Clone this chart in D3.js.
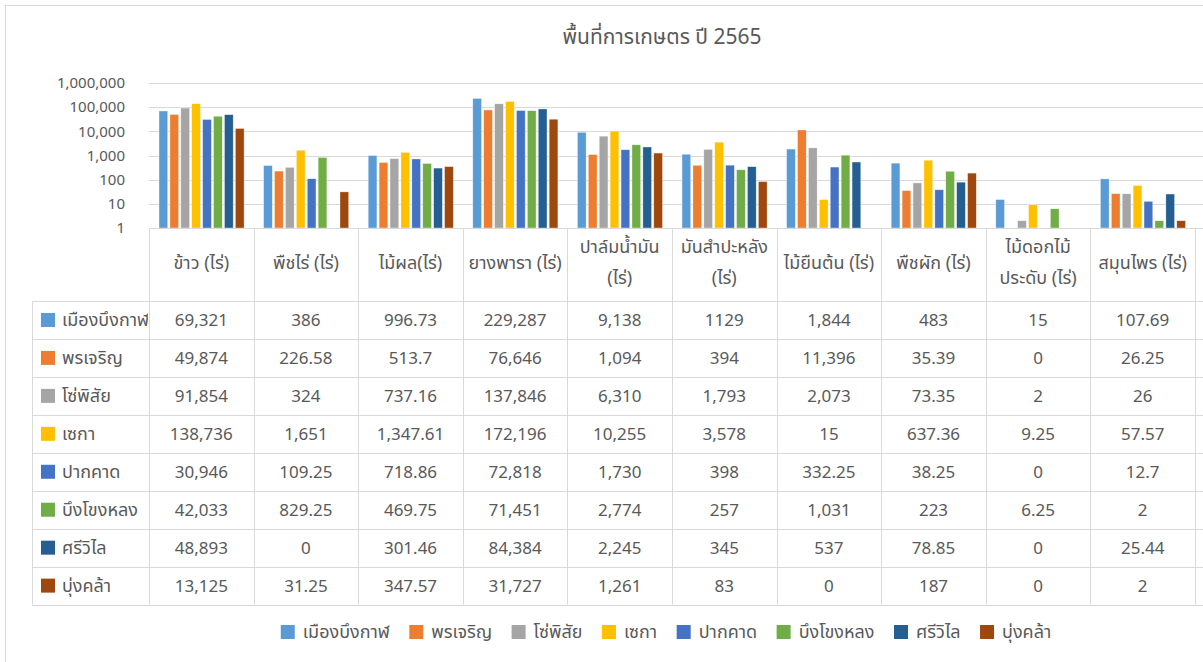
<!DOCTYPE html>
<html>
<head>
<meta charset="utf-8">
<script src="https://cdn.jsdelivr.net/npm/d3@7"></script>
<style>
  body { margin: 0; background: #fff; }
  svg text { font-family: Tahoma, "Noto Sans", "Noto Sans Thai", sans-serif; fill: #595959; }
</style>
</head>
<body>
<svg id="chart" width="1203" height="662"></svg>
<script>
// categories (table header), two-line header text where Excel wrapped it
var categories = ["ข้าว (ไร่)", "พืชไร่ (ไร่)", "ไม้ผล(ไร่)", "ยางพารา (ไร่)", "ปาล์มน้ำมัน (ไร่)",
                  "มันสำปะหลัง (ไร่)", "ไม้ยืนต้น (ไร่)", "พืชผัก (ไร่)", "ไม้ดอกไม้ประดับ (ไร่)", "สมุนไพร (ไร่)"];
var categoryLines = [["ข้าว (ไร่)"], ["พืชไร่ (ไร่)"], ["ไม้ผล(ไร่)"], ["ยางพารา (ไร่)"], ["ปาล์มน้ำมัน", "(ไร่)"],
                     ["มันสำปะหลัง", "(ไร่)"], ["ไม้ยืนต้น (ไร่)"], ["พืชผัก (ไร่)"], ["ไม้ดอกไม้", "ประดับ (ไร่)"], ["สมุนไพร (ไร่)"]];

var seriesNames = ["เมืองบึงกาฬ", "พรเจริญ", "โซ่พิสัย", "เซกา", "ปากคาด", "บึงโขงหลง", "ศรีวิไล", "บุ่งคล้า"];
var seriesColors = ["#5B9BD5", "#ED7D31", "#A5A5A5", "#FFC000", "#4472C4", "#70AD47", "#255E91", "#9E480E"];

// values as printed in the data table
var muangBuengKan = ["69,321", "386", "996.73", "229,287", "9,138", "1129", "1,844", "483", "15", "107.69"];
var phonCharoen   = ["49,874", "226.58", "513.7", "76,646", "1,094", "394", "11,396", "35.39", "0", "26.25"];
var soPhisai      = ["91,854", "324", "737.16", "137,846", "6,310", "1,793", "2,073", "73.35", "2", "26"];
var seka          = ["138,736", "1,651", "1,347.61", "172,196", "10,255", "3,578", "15", "637.36", "9.25", "57.57"];
var pakKhat       = ["30,946", "109.25", "718.86", "72,818", "1,730", "398", "332.25", "38.25", "0", "12.7"];
var buengKhongLong= ["42,033", "829.25", "469.75", "71,451", "2,774", "257", "1,031", "223", "6.25", "2"];
var siWilai       = ["48,893", "0", "301.46", "84,384", "2,245", "345", "537", "78.85", "0", "25.44"];
var bungKhla      = ["13,125", "31.25", "347.57", "31,727", "1,261", "83", "0", "187", "0", "2"];

var seriesText = [muangBuengKan, phonCharoen, soPhisai, seka, pakKhat, buengKhongLong, siWilai, bungKhla];

var yTicks = [1, 10, 100, 1000, 10000, 100000, 1000000];
var title = "พื้นที่การเกษตร ปี 2565";

var toNum = function(s) { return +s.replace(/,/g, ""); };

var svg = d3.select("#chart");
var W = 1203;
var plot = { left: 149, right: 1195, top: 83, bottom: 228 };
var table = { left: 32, headerBottom: 301, rowH: 37.95 };
var gridColor = "#D9D9D9";
var thaiSize = "18px", numSize = "17px";

// chart frame
svg.append("rect")
    .attr("x", 5.5).attr("y", 5.5)
    .attr("width", W + 20).attr("height", 700)
    .attr("fill", "#fff").attr("stroke", gridColor);

svg.append("text")
    .text(title)
    .attr("x", 662).attr("y", 44)
    .attr("text-anchor", "middle")
    .style("font-size", "21px");

var x0 = d3.scaleBand().domain(categories).range([plot.left, plot.right]);
var x1 = d3.scaleBand().domain(seriesNames).range([10, x0.bandwidth() - 9.5]).paddingInner(0.2);
var y = d3.scaleLog().domain([1, 1000000]).range([plot.bottom, plot.top]);

// gridlines
svg.append("g").selectAll("line")
    .data(yTicks.slice(1))
    .enter().append("line")
    .attr("x1", plot.left).attr("x2", W)
    .attr("y1", function(d) { return Math.round(y(d)) + 0.5; })
    .attr("y2", function(d) { return Math.round(y(d)) + 0.5; })
    .attr("stroke", gridColor);

var yAxis = d3.axisLeft(y).tickValues(yTicks).tickFormat(d3.format(",")).tickSize(0).tickPadding(24);
var yg = svg.append("g")
    .attr("transform", "translate(" + plot.left + ",0)")
    .call(yAxis);
yg.select(".domain").remove();
yg.selectAll("text").style("font-size", "15px").attr("fill", "#595959")
    .style("font-family", "Tahoma, 'Noto Sans', sans-serif");

// bars
var groups = svg.append("g").selectAll("g")
    .data(categories)
    .enter().append("g")
    .attr("transform", function(d) { return "translate(" + x0(d) + ",0)"; });

groups.selectAll("rect")
    .data(function(d, ci) {
        return seriesNames.map(function(s, si) { return { s: s, si: si, v: toNum(seriesText[si][ci]) }; })
            .filter(function(e) { return e.v > 0; });
    })
    .enter().append("rect")
    .attr("x", function(d) { return x1(d.s); })
    .attr("width", x1.bandwidth())
    .attr("y", function(d) { return y(Math.max(d.v, 1)); })
    .attr("height", function(d) { return plot.bottom - y(Math.max(d.v, 1)); })
    .attr("fill", function(d) { return seriesColors[d.si]; })
    .attr("stroke", "#fff").attr("stroke-opacity", 0.6).attr("stroke-width", 0.6);

// data table
var rowsTop = table.headerBottom;
var tableBottom = rowsTop + table.rowH * seriesNames.length;
var tg = svg.append("g");

svg.append("clipPath").attr("id", "labelClip")
    .append("rect")
    .attr("x", table.left).attr("y", 0)
    .attr("width", plot.left - table.left - 1).attr("height", 662);

// axis line at the base
tg.append("line")
    .attr("x1", plot.left).attr("x2", W)
    .attr("y1", plot.bottom + 0.5).attr("y2", plot.bottom + 0.5)
    .attr("stroke", gridColor);

// vertical cell borders
var bounds = categories.map(function(c) { return x0(c); }).concat([plot.right]);
tg.selectAll("line.v")
    .data(bounds)
    .enter().append("line")
    .attr("class", "v")
    .attr("x1", function(d) { return Math.round(d) + 0.5; })
    .attr("x2", function(d) { return Math.round(d) + 0.5; })
    .attr("y1", plot.bottom).attr("y2", tableBottom)
    .attr("stroke", gridColor);
tg.append("line")
    .attr("x1", table.left + 0.5).attr("x2", table.left + 0.5)
    .attr("y1", rowsTop).attr("y2", tableBottom)
    .attr("stroke", gridColor);

// horizontal cell borders
tg.selectAll("line.h")
    .data(d3.range(seriesNames.length + 1))
    .enter().append("line")
    .attr("class", "h")
    .attr("x1", table.left).attr("x2", W)
    .attr("y1", function(i) { return Math.round(rowsTop + i * table.rowH) + 0.5; })
    .attr("y2", function(i) { return Math.round(rowsTop + i * table.rowH) + 0.5; })
    .attr("stroke", gridColor);

// header text
var hdr = tg.selectAll("text.hdr")
    .data(categoryLines)
    .enter().append("text")
    .attr("class", "hdr")
    .attr("text-anchor", "middle")
    .style("font-size", thaiSize)
    .attr("x", function(d, i) { return x0(categories[i]) + x0.bandwidth() / 2; })
    .attr("y", function(d) { return d.length > 1 ? 253 : 269; });
hdr.selectAll("tspan")
    .data(function(d) { return d; })
    .enter().append("tspan")
    .attr("x", function() { return d3.select(this.parentNode).attr("x"); })
    .attr("dy", function(d, i) { return i === 0 ? 0 : 31; })
    .text(function(d) { return d; });

// rows
var rows = tg.selectAll("g.row")
    .data(seriesNames)
    .enter().append("g")
    .attr("class", "row")
    .attr("transform", function(d, i) { return "translate(0," + (rowsTop + i * table.rowH) + ")"; });

rows.append("rect")
    .attr("x", 41).attr("y", table.rowH / 2 - 7)
    .attr("width", 14).attr("height", 14)
    .attr("fill", function(d, i) { return seriesColors[i]; });

rows.append("text")
    .attr("x", 62).attr("y", table.rowH / 2 + 6)
    .attr("clip-path", "url(#labelClip)")
    .style("font-size", thaiSize)
    .text(function(d) { return d; });

rows.selectAll("text.val")
    .data(function(d, i) { return seriesText[i]; })
    .enter().append("text")
    .attr("class", "val")
    .attr("text-anchor", "middle")
    .style("font-size", numSize)
    .attr("x", function(d, ci) { return x0(categories[ci]) + x0.bandwidth() / 2; })
    .attr("y", table.rowH / 2 + 6)
    .text(function(d) { return d; });

// legend
var legend = svg.append("g").attr("transform", "translate(0,632)");
var items = legend.selectAll("g")
    .data(seriesNames)
    .enter().append("g");
items.append("rect")
    .attr("x", 0).attr("y", -7)
    .attr("width", 14).attr("height", 14)
    .attr("fill", function(d, i) { return seriesColors[i]; });
items.append("text")
    .attr("x", 22).attr("y", 6)
    .style("font-size", thaiSize)
    .text(function(d) { return d; });

var xPos = 0, gap = 19.5, positions = [];
items.each(function() {
    positions.push(xPos);
    xPos += 22 + this.querySelector("text").getComputedTextLength() + gap;
});
var totalW = xPos - gap;
var startX = 666 - totalW / 2;
items.attr("transform", function(d, i) { return "translate(" + (startX + positions[i]) + ",0)"; });
</script>
</body>
</html>
